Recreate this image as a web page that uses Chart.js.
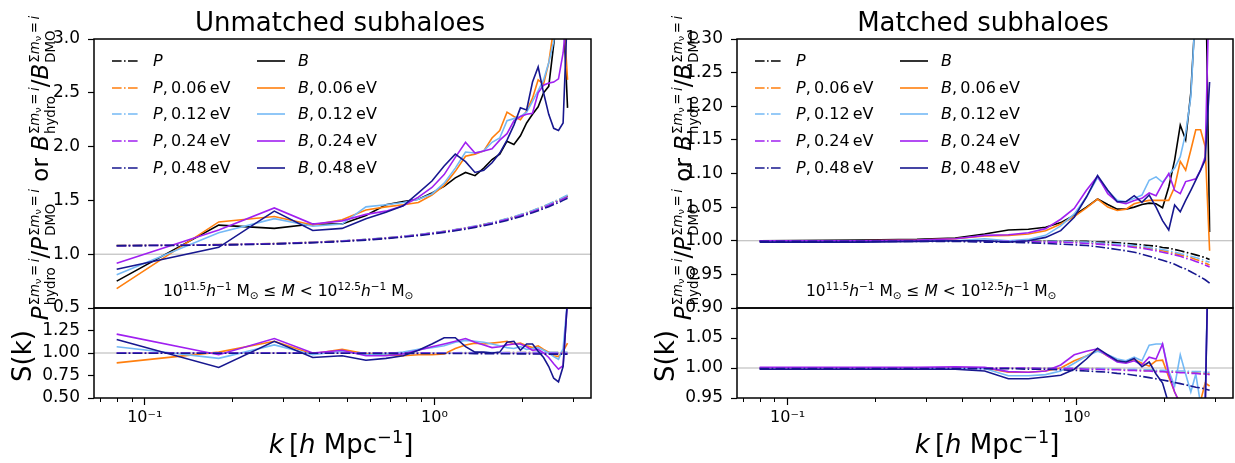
<!DOCTYPE html>
<html><head><meta charset="utf-8">
<script src="https://cdn.jsdelivr.net/npm/chart.js@4.4.1/dist/chart.umd.min.js"></script>
<style>
html,body{margin:0;padding:0;background:#fff;}
#wrap{position:relative;width:1235px;height:463px;overflow:hidden;font-family:'DejaVu Sans',sans-serif;color:#000;}
canvas{position:absolute;}
.t{position:absolute;white-space:nowrap;line-height:1;z-index:5;}
.c{transform:translate(-50%,-50%);}
.l{transform:translateY(-50%);}
.rot{transform:translate(-50%,-50%) rotate(-90deg);}
sup{font-size:0.68em;vertical-align:0.55em;line-height:0;}
sub{font-size:0.68em;vertical-align:-0.25em;line-height:0;}
.ss{display:inline-flex;flex-direction:column;vertical-align:9px;font-size:13.3px;line-height:14.5px;font-style:normal;margin-left:1px;}
.nu{font-size:0.72em;position:relative;top:0.25em;}
svg{position:absolute;z-index:5;}
</style></head><body><div id="wrap"></div>
<script>
// ---------------- data ----------------
const K = [0.08,0.18,0.28,0.38,0.48,0.58,0.68,0.78,0.88,0.98,1.08,1.18,1.28,1.38,1.48,1.58,1.68,1.78,1.88,1.98,2.08,2.18,2.28,2.38,2.48,2.58,2.68,2.78,2.88];

const SERIES_COLORS = ['#000000','#ff7f0e','#74b9f5','#a020f0','#17178f'];
const MASS_LABELS = ['', '0.06', '0.12', '0.24', '0.48'];

// Unmatched subhaloes, top: P ratios
const UNM_P_00 = [1.080,1.088,1.098,1.110,1.122,1.136,1.150,1.165,1.180,1.196,1.211,1.226,1.242,1.258,1.275,1.291,1.308,1.326,1.344,1.362,1.381,1.400,1.420,1.440,1.460,1.480,1.500,1.520,1.540];
const UNM_P_06 = [1.081,1.089,1.099,1.111,1.123,1.137,1.151,1.166,1.181,1.197,1.212,1.228,1.244,1.260,1.277,1.293,1.311,1.329,1.347,1.366,1.385,1.404,1.424,1.444,1.464,1.485,1.505,1.525,1.546];
const UNM_P_12 = [1.081,1.089,1.099,1.111,1.124,1.138,1.152,1.167,1.182,1.198,1.213,1.229,1.245,1.262,1.279,1.295,1.313,1.331,1.349,1.368,1.387,1.406,1.426,1.447,1.467,1.488,1.508,1.529,1.550];
const UNM_P_24 = [1.079,1.087,1.097,1.109,1.121,1.135,1.149,1.164,1.178,1.194,1.209,1.224,1.240,1.256,1.272,1.288,1.305,1.322,1.340,1.358,1.376,1.395,1.414,1.434,1.453,1.473,1.493,1.513,1.533];
const UNM_P_48 = [1.078,1.085,1.095,1.106,1.118,1.131,1.145,1.159,1.173,1.188,1.203,1.218,1.233,1.249,1.265,1.281,1.297,1.314,1.331,1.349,1.367,1.385,1.404,1.423,1.442,1.461,1.480,1.500,1.520];
// Unmatched subhaloes, top: B ratios
const UNM_B_00 = [0.75,1.27,1.24,1.28,1.28,1.36,1.46,1.49,1.51,1.57,1.63,1.71,1.76,1.73,1.80,1.88,1.93,2.05,2.02,2.10,2.22,2.30,2.37,2.50,2.56,2.95,3.30,3.30,2.36];
const UNM_B_06 = [0.68,1.30,1.35,1.27,1.32,1.41,1.44,1.46,1.48,1.55,1.64,1.77,1.91,1.93,1.96,2.08,2.15,2.32,2.28,2.25,2.33,2.45,2.62,2.58,2.78,3.10,3.30,3.30,2.62];
const UNM_B_12 = [0.81,1.20,1.33,1.26,1.28,1.44,1.46,1.48,1.51,1.56,1.66,1.80,1.95,1.94,1.96,2.04,2.08,2.24,2.26,2.28,2.32,2.42,2.52,2.62,2.78,2.98,3.30,3.30,3.30];
const UNM_B_24 = [0.915,1.225,1.43,1.28,1.31,1.37,1.40,1.45,1.53,1.62,1.74,1.90,2.04,1.94,1.96,1.98,2.06,2.12,2.24,2.28,2.30,2.31,2.50,2.57,2.59,2.60,2.63,2.87,3.30];
const UNM_B_48 = [0.86,1.064,1.40,1.22,1.24,1.33,1.39,1.45,1.57,1.68,1.82,1.93,1.86,1.76,1.78,1.85,1.94,2.06,2.20,2.36,2.34,2.60,2.74,2.50,2.30,2.17,2.15,2.22,3.30];
// Unmatched subhaloes, bottom: S(k)
const UNM_SP_06 = [1.000,1.000,1.000,1.000,1.000,1.001,1.001,1.001,1.001,1.002,1.002,1.002,1.002,1.003,1.003,1.003,1.003,1.004,1.004,1.004,1.004,1.005,1.005,1.005,1.005,1.006,1.006,1.006,1.006];
const UNM_SP_12 = [1.001,1.001,1.001,1.001,1.001,1.002,1.002,1.002,1.002,1.003,1.003,1.003,1.004,1.004,1.004,1.005,1.005,1.005,1.006,1.006,1.006,1.006,1.007,1.007,1.007,1.007,1.008,1.008,1.008];
const UNM_SP_24 = [0.999,0.999,0.999,0.999,0.999,0.999,0.999,0.999,0.999,0.998,0.998,0.998,0.998,0.998,0.998,0.998,0.997,0.997,0.997,0.997,0.997,0.997,0.996,0.996,0.996,0.996,0.996,0.996,0.995];
const UNM_SP_48 = [0.998,0.998,0.997,0.997,0.997,0.996,0.996,0.996,0.995,0.995,0.995,0.994,0.994,0.993,0.993,0.992,0.992,0.991,0.991,0.990,0.990,0.989,0.989,0.988,0.988,0.988,0.987,0.987,0.987];
const UNM_SB_06 = [0.89,1.01,1.13,0.99,1.04,0.99,0.98,0.97,0.98,0.98,0.99,1.05,1.09,1.11,1.10,1.11,1.12,1.13,1.10,1.11,1.08,1.06,1.08,1.04,1.01,0.97,0.96,1.02,1.11];
const UNM_SB_12 = [1.07,0.94,1.09,0.98,1.02,0.98,0.99,1.01,1.04,1.06,1.08,1.12,1.14,1.13,1.12,1.10,1.08,1.06,1.05,1.07,1.04,1.05,1.06,1.03,1.00,0.96,0.93,1.05,1.60];
const UNM_SB_24 = [1.21,0.98,1.16,1.00,1.03,0.97,0.97,0.99,1.03,1.07,1.10,1.13,1.16,1.12,1.09,1.06,1.07,1.09,1.10,1.10,1.07,1.03,1.04,1.00,0.95,0.88,0.82,0.86,1.60];
const UNM_SB_48 = [1.15,0.84,1.13,0.95,0.97,0.92,0.94,0.97,1.03,1.10,1.17,1.17,1.07,1.01,1.01,1.00,1.01,1.12,1.13,1.03,1.10,1.10,1.02,0.95,0.85,0.72,0.68,0.85,1.60];

// Matched subhaloes, top: P ratios
const MAT_P_00 = [1.000,1.000,1.000,1.000,1.000,1.000,1.000,1.000,0.999,0.999,0.999,0.998,0.998,0.997,0.996,0.995,0.994,0.993,0.992,0.990,0.989,0.987,0.985,0.983,0.981,0.979,0.977,0.975,0.972];
const MAT_P_06 = [1.000,1.000,1.000,1.000,1.000,0.999,0.999,0.999,0.998,0.998,0.997,0.996,0.995,0.994,0.993,0.992,0.990,0.989,0.987,0.985,0.983,0.981,0.979,0.977,0.975,0.972,0.970,0.967,0.964];
const MAT_P_12 = [1.000,1.000,1.000,1.000,1.000,1.000,0.999,0.999,0.999,0.998,0.998,0.997,0.996,0.995,0.994,0.993,0.992,0.990,0.988,0.987,0.985,0.983,0.981,0.979,0.977,0.975,0.973,0.970,0.968];
const MAT_P_24 = [1.000,1.000,1.000,1.000,0.999,0.999,0.999,0.998,0.998,0.997,0.996,0.995,0.994,0.993,0.992,0.990,0.989,0.987,0.985,0.983,0.981,0.979,0.977,0.974,0.972,0.969,0.967,0.964,0.961];
const MAT_P_48 = [0.999,0.999,0.999,0.999,0.998,0.998,0.997,0.996,0.995,0.994,0.993,0.991,0.989,0.987,0.985,0.983,0.980,0.977,0.974,0.971,0.968,0.965,0.961,0.958,0.954,0.950,0.946,0.942,0.937];
// Matched subhaloes, top: B ratios
const MAT_B_00 = [1.000,1.001,1.002,1.004,1.010,1.016,1.017,1.020,1.027,1.038,1.050,1.062,1.054,1.047,1.047,1.050,1.054,1.056,1.055,1.049,1.080,1.120,1.172,1.150,1.220,1.350,1.450,1.450,1.013];
const MAT_B_06 = [1.000,1.000,1.001,1.003,1.007,1.008,1.010,1.015,1.025,1.036,1.049,1.062,1.050,1.045,1.047,1.055,1.058,1.060,1.060,1.060,1.060,1.080,1.118,1.105,1.135,1.165,1.165,1.140,0.985];
const MAT_B_12 = [0.999,0.999,1.000,1.000,1.003,1.000,1.002,1.008,1.022,1.040,1.065,1.094,1.074,1.060,1.058,1.063,1.068,1.090,1.095,1.087,1.098,1.108,1.125,1.160,1.214,1.350,1.450,1.450,1.450];
const MAT_B_24 = [1.000,1.000,1.001,1.003,1.008,1.009,1.012,1.018,1.032,1.048,1.075,1.096,1.070,1.058,1.055,1.060,1.063,1.071,1.067,1.085,1.100,1.075,1.070,1.088,1.090,1.092,1.105,1.125,1.400];
const MAT_B_48 = [0.998,0.998,0.999,1.000,1.000,0.998,1.000,1.005,1.015,1.035,1.065,1.097,1.075,1.058,1.058,1.067,1.057,1.068,1.050,1.030,1.016,1.053,1.043,1.060,1.075,1.090,1.105,1.120,1.236];
// Matched subhaloes, bottom: S(k)
const MAT_SP_06 = [1.000,1.000,1.000,1.000,1.000,1.000,1.000,1.000,1.000,0.999,0.999,0.999,0.998,0.998,0.997,0.997,0.996,0.996,0.995,0.995,0.994,0.994,0.993,0.993,0.992,0.992,0.991,0.991,0.990];
const MAT_SP_12 = [1.000,1.000,1.000,1.000,1.000,1.000,1.000,1.000,1.000,1.000,0.999,0.999,0.999,0.998,0.998,0.998,0.997,0.997,0.996,0.996,0.996,0.995,0.995,0.995,0.994,0.994,0.994,0.993,0.993];
const MAT_SP_24 = [1.000,1.000,1.000,1.000,1.000,1.000,1.000,0.999,0.999,0.999,0.998,0.998,0.997,0.997,0.996,0.996,0.995,0.995,0.994,0.994,0.993,0.993,0.992,0.992,0.991,0.991,0.990,0.990,0.989];
const MAT_SP_48 = [0.999,0.999,0.999,0.999,0.999,0.999,0.998,0.998,0.997,0.996,0.995,0.994,0.993,0.991,0.990,0.988,0.986,0.984,0.982,0.980,0.978,0.976,0.974,0.972,0.970,0.968,0.967,0.965,0.963];
const MAT_SB_06 = [1.000,1.000,1.000,1.000,1.000,0.993,0.993,0.995,1.000,1.012,1.020,1.030,1.020,1.012,1.010,1.014,1.008,1.003,1.012,1.013,0.985,0.960,0.940,0.945,0.945,0.940,0.945,0.975,0.970];
const MAT_SB_12 = [1.000,1.000,1.000,0.999,0.999,0.987,0.987,0.989,0.995,1.008,1.020,1.028,1.022,1.015,1.012,1.018,1.012,1.038,1.040,1.040,0.995,0.970,1.022,0.990,0.960,0.990,0.940,0.940,1.300];
const MAT_SB_24 = [1.001,1.001,1.001,1.002,1.001,0.994,0.993,0.995,1.005,1.022,1.028,1.032,1.020,1.010,1.008,1.012,1.005,1.018,1.015,1.040,0.990,0.960,0.940,0.940,0.940,0.930,0.930,0.930,1.300];
const MAT_SB_48 = [0.998,0.998,0.998,0.998,0.995,0.982,0.982,0.985,0.988,0.998,1.015,1.033,1.022,1.012,1.010,1.016,1.002,1.010,0.990,0.975,0.940,0.920,0.920,0.930,0.930,0.930,0.930,0.930,1.300];

// axes ticks and ranges
const X_MIN = 0.0668, X_MAX = 3.47;
const X_MAJOR_TICKS = [0.1, 1];
const X_TICK_LABELS = ['10\u207B\u00B9', '10\u2070'];
const X_MINOR_TICKS = [0.07,0.08,0.09,0.2,0.3,0.4,0.5,0.6,0.7,0.8,0.9,2,3];
const UNM_TOP_YTICKS = [0.5,1.0,1.5,2.0,2.5,3.0];
const UNM_BOT_YTICKS = [0.5,0.75,1.0,1.25];
const MAT_TOP_YTICKS = [0.90,0.95,1.00,1.05,1.10,1.15,1.20,1.25,1.30];
const MAT_BOT_YTICKS = [0.95,1.00,1.05];
const REF_LEVEL = 1.0;

// ---------------- drawing ----------------
const wrap = document.getElementById('wrap');
const FONT = "'DejaVu Sans', sans-serif";
const DASHDOT = [9.6, 2.4, 1.6, 2.4];

const framePlugin = {
  id: 'frame',
  beforeDatasetsDraw(chart) {
    const {ctx, chartArea: a} = chart;
    const py = chart.scales.y.getPixelForValue(REF_LEVEL);
    ctx.save();
    ctx.strokeStyle = '#b3b3b3'; ctx.lineWidth = 1;
    ctx.beginPath(); ctx.moveTo(a.left, py); ctx.lineTo(a.right, py); ctx.stroke();
    ctx.restore();
  },
  afterDraw(chart) {
    const {ctx, chartArea: a} = chart;
    ctx.save();
    ctx.strokeStyle = '#000'; ctx.lineWidth = 1.5;
    ctx.strokeRect(a.left, a.top, a.right - a.left, a.bottom - a.top);
    const xs = chart.scales.x;
    if (xs.options.display) {
      ctx.lineWidth = 1;
      ctx.beginPath();
      X_MINOR_TICKS.forEach(v => {
        const px = Math.round(xs.getPixelForValue(v)) + 0.5;
        ctx.moveTo(px, a.bottom); ctx.lineTo(px, a.bottom + 4);
      });
      ctx.stroke();
    }
    ctx.restore();
  }
};

function makeChart(o) {
  const c = document.createElement('canvas');
  c.width = o.w; c.height = o.h;
  c.style.left = o.left + 'px'; c.style.top = o.top + 'px';
  c.style.width = o.w + 'px'; c.style.height = o.h + 'px';
  wrap.appendChild(c);
  const yW = o.area.l - o.left;
  const padTop = o.area.t - o.top;
  const padRight = o.left + o.w - o.area.r;
  const below = o.top + o.h - o.area.b;
  const datasets = [];
  o.series.forEach((s, i) => {
    datasets.push({
      data: K.map((k, j) => ({x: k, y: s.values[j]})),
      borderColor: s.color, backgroundColor: s.color,
      borderWidth: 1.6, borderDash: s.dash ? DASHDOT : [],
      pointRadius: 0, fill: false, tension: 0, order: -i
    });
  });
  return new Chart(c, {
    type: 'line',
    data: {datasets},
    options: {
      responsive: false, animation: false, devicePixelRatio: 1,
      layout: {padding: {left: 0, top: padTop, right: padRight, bottom: o.xDisplay ? 0 : below}},
      plugins: {legend: {display: false}, tooltip: {enabled: false}},
      scales: {
        x: {
          type: 'logarithmic', min: X_MIN, max: X_MAX, display: o.xDisplay,
          afterBuildTicks: s => {
            s.ticks = X_MAJOR_TICKS.concat(X_MINOR_TICKS).sort((a, b) => a - b)
              .map(v => ({value: v, major: false}));
          },
          afterFit: s => {
            if (o.xDisplay) s.height = below;
            s.paddingLeft = 0; s.paddingRight = 0; s.paddingTop = 0; s.paddingBottom = 0;
          },
          ticks: {
            autoSkip: false, maxRotation: 0, minRotation: 0, padding: 3, color: '#000',
            font: {family: FONT, size: 16},
            callback: v => { const i = X_MAJOR_TICKS.indexOf(v); return i >= 0 ? X_TICK_LABELS[i] : ''; }
          },
          grid: {
            drawOnChartArea: false, drawTicks: true, tickLength: 7, tickWidth: 1.2,
            tickColor: ctx => (ctx.tick && X_MAJOR_TICKS.indexOf(ctx.tick.value) >= 0) ? '#000' : 'rgba(0,0,0,0)'
          },
          border: {display: false}
        },
        y: {
          type: 'linear', min: o.yMin, max: o.yMax,
          afterBuildTicks: s => { s.ticks = o.yTicks.map(v => ({value: v})); },
          afterFit: s => {
            s.width = yW;
            s.paddingTop = 0; s.paddingBottom = 0; s.paddingLeft = 0; s.paddingRight = 0;
          },
          ticks: {
            autoSkip: false, padding: 8, color: '#000', font: {family: FONT, size: 17},
            callback: v => Number(v).toFixed(o.yDigits)
          },
          grid: {drawOnChartArea: false, drawTicks: true, tickLength: 6, tickWidth: 1.2, tickColor: '#000'},
          border: {display: false}
        }
      }
    },
    plugins: [framePlugin]
  });
}

function topSeries(P, B) {
  const out = [];
  for (let i = 0; i < 5; i++) {
    out.push({values: P[i], color: SERIES_COLORS[i], dash: true});
    out.push({values: B[i], color: SERIES_COLORS[i], dash: false});
  }
  return out;
}
function botSeries(SP, SB) {
  const out = [];
  for (let i = 0; i < 4; i++) {
    out.push({values: SP[i], color: SERIES_COLORS[i + 1], dash: true});
    out.push({values: SB[i], color: SERIES_COLORS[i + 1], dash: false});
  }
  return out;
}

const LEFT = {l: 94, r: 591}, RIGHT = {l: 737, r: 1233};
const YT = 39, YM = 308, YB = 398;

makeChart({left: 0, top: 25, w: 600, h: 305, area: {l: LEFT.l, r: LEFT.r, t: YT, b: YM}, xDisplay: false,
  yMin: 0.5, yMax: 3.0, yTicks: UNM_TOP_YTICKS, yDigits: 1,
  series: topSeries([UNM_P_00, UNM_P_06, UNM_P_12, UNM_P_24, UNM_P_48], [UNM_B_00, UNM_B_06, UNM_B_12, UNM_B_24, UNM_B_48])});
makeChart({left: 0, top: 296, w: 600, h: 167, area: {l: LEFT.l, r: LEFT.r, t: YM, b: YB}, xDisplay: true,
  yMin: 0.5, yMax: 1.5, yTicks: UNM_BOT_YTICKS, yDigits: 2,
  series: botSeries([UNM_SP_06, UNM_SP_12, UNM_SP_24, UNM_SP_48], [UNM_SB_06, UNM_SB_12, UNM_SB_24, UNM_SB_48])});
makeChart({left: 640, top: 25, w: 595, h: 305, area: {l: RIGHT.l, r: RIGHT.r, t: YT, b: YM}, xDisplay: false,
  yMin: 0.9, yMax: 1.3, yTicks: MAT_TOP_YTICKS, yDigits: 2,
  series: topSeries([MAT_P_00, MAT_P_06, MAT_P_12, MAT_P_24, MAT_P_48], [MAT_B_00, MAT_B_06, MAT_B_12, MAT_B_24, MAT_B_48])});
makeChart({left: 640, top: 296, w: 595, h: 167, area: {l: RIGHT.l, r: RIGHT.r, t: YM, b: YB}, xDisplay: true,
  yMin: 0.95, yMax: 1.10, yTicks: MAT_BOT_YTICKS, yDigits: 2,
  series: botSeries([MAT_SP_06, MAT_SP_12, MAT_SP_24, MAT_SP_48], [MAT_SB_06, MAT_SB_12, MAT_SB_24, MAT_SB_48])});

// ---------------- text ----------------
function addText(html, x, y, cls, size) {
  const d = document.createElement('div');
  d.className = 't ' + cls;
  d.style.left = x + 'px'; d.style.top = y + 'px'; d.style.fontSize = size + 'px';
  d.innerHTML = html;
  wrap.appendChild(d);
  return d;
}
function ss(sub) {
  return '<span class="ss"><span>\u03A3<i>m</i><span class="nu">\u03BD</span>\u2009=\u2009<i>i</i></span><span>' + sub + '</span></span>';
}
const YLABEL = '<i>P</i>' + ss('hydro') + '/<i>P</i>' + ss('DMO') + '&nbsp;or&nbsp;<i>B</i>' + ss('hydro') + '/<i>B</i>' + ss('DMO');
const XLABEL = '<i>k</i>&thinsp;[<i>h</i> Mpc<sup>\u22121</sup>]';
const MASS_NOTE = '10<sup>11.5</sup><i>h</i><sup>\u22121</sup> M<sub>\u2299</sub> \u2264 <i>M</i> &lt; 10<sup>12.5</sup><i>h</i><sup>\u22121</sup> M<sub>\u2299</sub>';

[[LEFT, 'Unmatched subhaloes', 340, 43, 22, 341], [RIGHT, 'Matched subhaloes', 983, 686, 665, 987]].forEach(([ax, title, tx, ylx, skx, xlx]) => {
  addText(title, tx, 22, 'c', 26);
  addText(YLABEL, ylx, 168, 'rot', 23);
  addText('S(k)', skx, 356, 'rot', 26);
  addText(XLABEL, xlx, 444, 'c', 26);
  addText(MASS_NOTE, ax.l + 69, 292, 'l', 15.5);
  // legend
  const rows = [61, 88, 114, 141, 168];
  for (let i = 0; i < 5; i++) {
    const y = rows[i];
    const m = MASS_LABELS[i] ? ',\u2009' + MASS_LABELS[i] + '\u2009eV' : '';
    [[18, 'P', true], [163, 'B', false]].forEach(([off, letter, dash]) => {
      const svgNS = 'http://www.w3.org/2000/svg';
      const svg = document.createElementNS(svgNS, 'svg');
      svg.setAttribute('width', '28'); svg.setAttribute('height', '6');
      svg.style.left = (ax.l + off) + 'px'; svg.style.top = (y - 3) + 'px';
      const ln = document.createElementNS(svgNS, 'line');
      ln.setAttribute('x1', '0'); ln.setAttribute('y1', '3'); ln.setAttribute('x2', '28'); ln.setAttribute('y2', '3');
      ln.setAttribute('stroke', SERIES_COLORS[i]); ln.setAttribute('stroke-width', '1.6');
      if (dash) ln.setAttribute('stroke-dasharray', DASHDOT.join(','));
      svg.appendChild(ln); wrap.appendChild(svg);
      addText('<i>' + letter + '</i>' + m, ax.l + off + 41, y, 'l', 16);
    });
  }
});
</script></body></html>
